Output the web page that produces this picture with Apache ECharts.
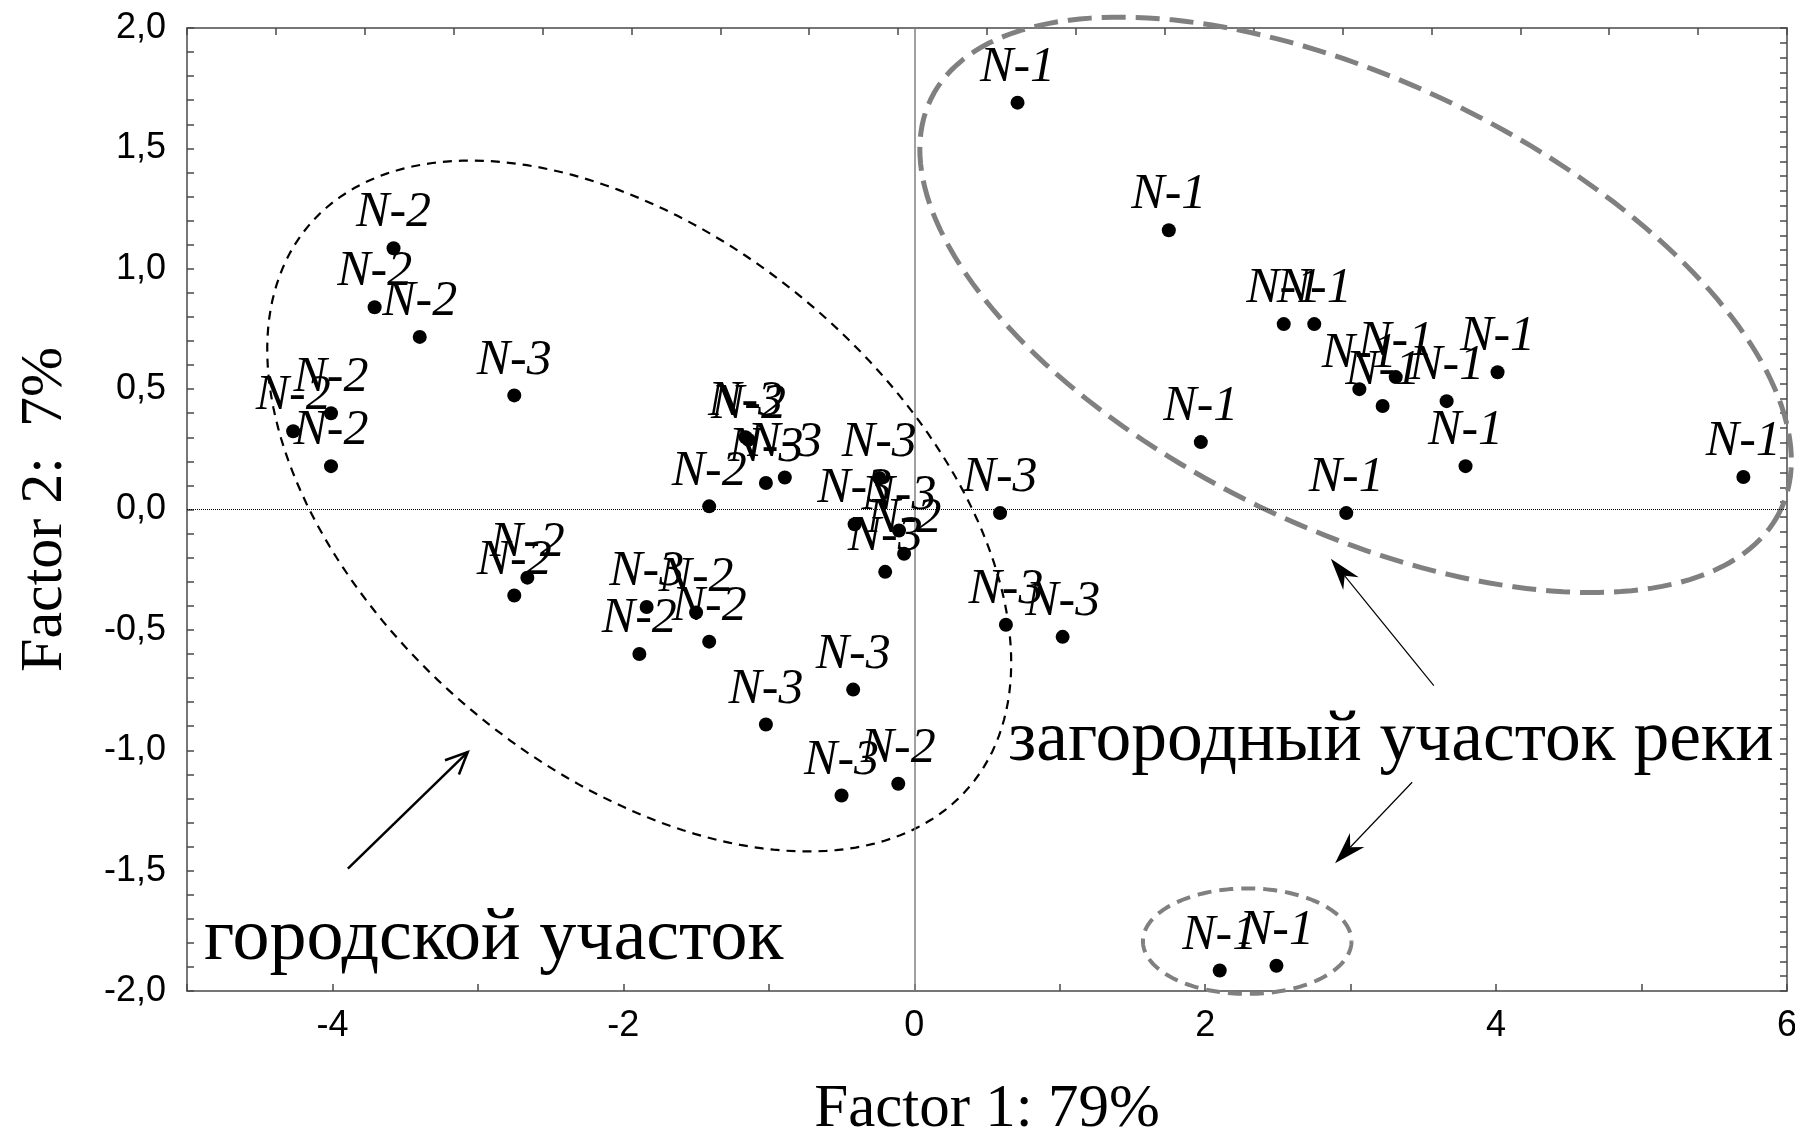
<!DOCTYPE html>
<html><head><meta charset="utf-8">
<script src="https://cdn.jsdelivr.net/npm/echarts@6/dist/echarts.min.js"></script>
<style>html,body{margin:0;padding:0;background:#fff;overflow:hidden}#c{position:absolute;left:0;top:0;width:1795px;height:1131px}</style>
</head><body><div id="c"></div>
<script>
// ---- data ----
const n1X = [0.71, 1.75, 2.54, 2.75, 3.06, 3.31, 3.22, 3.66, 4.01, 3.79, 1.97, 2.97, 5.70, 2.10, 2.49];
const n1Y = [1.69, 1.16, 0.77, 0.77, 0.50, 0.55, 0.43, 0.45, 0.57, 0.18, 0.28, -0.015, 0.135, -1.915, -1.895];
const n2X = [-3.58, -3.71, -3.40, -4.01, -4.27, -4.01, -2.75, -2.66, -1.50, -1.89, -1.41, -0.11, -1.41, -1.14, -0.07];
const n2Y = [1.085, 0.84, 0.717, 0.40, 0.325, 0.18, -0.357, -0.283, -0.428, -0.60, -0.549, -1.139, 0.013, 0.29, -0.184];
const n3X = [-2.75, -1.84, -1.02, -0.42, -0.50, 0.63, 1.02, 0.59, -0.24, -0.89, -1.02, -1.16, -0.41, -0.105, -0.20];
const n3Y = [0.474, -0.405, -0.893, -0.748, -1.188, -0.479, -0.529, -0.015, 0.131, 0.133, 0.11, 0.30, -0.061, -0.087, -0.259];
const groupNames = ['N-1', 'N-2', 'N-3'];

// ellipses: [centerX, centerY, semiAxis1X, semiAxis1Y, semiAxis2X, semiAxis2Y] (data units)
const ellipseCity = [-1.891, 0.0145, 2.270, -1.1665, -1.178, -0.8356];
const ellipseRiver = [3.034, 0.850, 2.920, -0.855, -0.670, -0.835];
const ellipseRiverSmall = [2.289, -1.793, 0.717, 0, 0, -0.219];

// arrows: [fromX, fromY, toX, toY]
const arrowCity = [-3.894, -1.492, -3.070, -1.0075];
const arrowRiverUp = [3.572, -0.732, 2.864, -0.2047];
const arrowRiverDown = [3.423, -1.133, 2.893, -1.469];

const cityText = 'городской участок';
const riverText = 'загородный участок реки';
const xTitle = 'Factor 1: 79%';
const yTitle = 'Factor 2:  7%';

// ---- chart ----
const chart = echarts.init(document.getElementById('c'));
const zip = (xs, ys) => xs.map((x, i) => [x, ys[i]]);
const axisColor = '#4a4a4a';

function ellipseRender(style) {
  return function (params, api) {
    const cx = api.value(0), cy = api.value(1), ux = api.value(2), uy = api.value(3), vx = api.value(4), vy = api.value(5);
    const pts = [];
    const n = 200;
    for (let i = 0; i <= n; i++) {
      const t = i / n * Math.PI * 2;
      pts.push(api.coord([cx + Math.cos(t) * ux + Math.sin(t) * vx, cy + Math.cos(t) * uy + Math.sin(t) * vy]));
    }
    return { type: 'polyline', shape: { points: pts }, style: Object.assign({ fill: null }, style) };
  };
}

function arrowRender(kind, lw) {
  return function (params, api) {
    const p1 = api.coord([api.value(0), api.value(1)]);
    const p2 = api.coord([api.value(2), api.value(3)]);
    const a = Math.atan2(p2[1] - p1[1], p2[0] - p1[0]);
    const pt = (len, off) => [p2[0] - Math.cos(a) * len - Math.sin(a) * off, p2[1] - Math.sin(a) * len + Math.cos(a) * off];
    const children = [];
    if (kind === 'open') {
      children.push({ type: 'line', shape: { x1: p1[0], y1: p1[1], x2: p2[0], y2: p2[1] }, style: { stroke: '#000', lineWidth: lw } });
      const l = pt(22, 10), r = pt(22, -10);
      children.push({ type: 'polyline', shape: { points: [l, p2, r] }, style: { stroke: '#000', lineWidth: lw, fill: null } });
    } else {
      const notch = pt(22, 0);
      children.push({ type: 'line', shape: { x1: p1[0], y1: p1[1], x2: notch[0], y2: notch[1] }, style: { stroke: '#000', lineWidth: lw } });
      children.push({ type: 'polygon', shape: { points: [p2, pt(32, 10), notch, pt(32, -10)] }, style: { fill: '#000' } });
    }
    return { type: 'group', children };
  };
}

const labelStyle = {
  show: true, position: 'top', distance: 3,
  fontFamily: 'Liberation Serif', fontStyle: 'italic', fontSize: 50, color: '#000'
};

function scatter(name, data, extra) {
  return Object.assign({
    type: 'scatter', name, data, symbol: 'circle', symbolSize: 14,
    itemStyle: { color: '#000', opacity: 1 },
    label: Object.assign({ formatter: name }, labelStyle),
    z: 5
  }, extra || {});
}

chart.setOption({
  animation: false,
  backgroundColor: '#fff',
  grid: { left: 187, right: 8, top: 28, bottom: 140, containLabel: false, outerBoundsMode: 'none' },
  xAxis: [{
    type: 'value', min: -5, max: 6, interval: 1, position: 'bottom',
    name: xTitle, nameLocation: 'middle', nameGap: 88,
    nameTextStyle: { fontFamily: 'Liberation Serif', fontSize: 61, color: '#000' },
    axisLine: { show: true, onZero: false, lineStyle: { color: axisColor, width: 1.5 } },
    axisTick: { show: true, inside: true, length: 7, lineStyle: { color: axisColor, width: 1.5 } },
    axisLabel: { margin: 17, fontFamily: 'Liberation Sans', fontSize: 36, color: '#000',
      formatter: v => (Math.round(v) % 2 === 0 ? String(Math.round(v)) : '') },
    splitLine: { show: false }
  }, {
    type: 'value', min: 0, max: 18, interval: 1, position: 'top',
    axisLine: { show: true, onZero: false, lineStyle: { color: axisColor, width: 1.5 } },
    axisTick: { show: true, inside: true, length: 7, lineStyle: { color: axisColor, width: 1.5 } },
    axisLabel: { show: false }, splitLine: { show: false }
  }],
  yAxis: [{
    type: 'value', min: -2, max: 2, interval: 0.5, position: 'left',
    name: yTitle, nameLocation: 'middle', nameGap: 112, nameRotate: 90,
    nameTextStyle: { fontFamily: 'Liberation Serif', fontSize: 60, color: '#000' },
    axisLine: { show: true, onZero: false, lineStyle: { color: axisColor, width: 1.5 } },
    axisTick: { show: true, inside: true, length: 7, lineStyle: { color: axisColor, width: 1.5 } },
    minorTick: { show: true, splitNumber: 5, length: 7, lineStyle: { color: axisColor, width: 1.5 } },
    axisLabel: { margin: 21, fontFamily: 'Liberation Sans', fontSize: 36, color: '#000',
      formatter: v => v.toFixed(1).replace('.', ',') },
    splitLine: { show: false }
  }, {
    type: 'value', min: 0, max: 65, interval: 1, position: 'right',
    axisLine: { show: true, onZero: false, lineStyle: { color: axisColor, width: 1.5 } },
    axisTick: { show: true, inside: true, length: 7, lineStyle: { color: axisColor, width: 1.5 } },
    axisLabel: { show: false }, splitLine: { show: false }
  }],
  graphic: [
    { type: 'text', left: 204, top: 903, style: { text: cityText, font: '74px "Liberation Serif"', fill: '#000' } },
    { type: 'text', left: 1008, top: 705, style: { text: riverText, font: '71.5px "Liberation Serif"', fill: '#000' } }
  ],
  series: [
    {
      type: 'custom', name: 'city', clip: false, silent: true, z: 2,
      data: [ellipseCity],
      renderItem: ellipseRender({ stroke: '#000', lineWidth: 2.2, lineDash: [9, 7] })
    },
    {
      type: 'custom', name: 'river', clip: false, silent: true, z: 2,
      data: [ellipseRiver],
      renderItem: ellipseRender({ stroke: '#808080', lineWidth: 5, lineDash: [24, 10] })
    },
    {
      type: 'custom', name: 'riverSmall', clip: false, silent: true, z: 2,
      data: [ellipseRiverSmall],
      renderItem: ellipseRender({ stroke: '#808080', lineWidth: 4, lineDash: [14, 8] })
    },
    { type: 'custom', name: 'arrowCity', clip: false, silent: true, z: 3, data: [arrowCity], renderItem: arrowRender('open', 2.5) },
    { type: 'custom', name: 'arrowUp', clip: false, silent: true, z: 3, data: [arrowRiverUp], renderItem: arrowRender('filled', 1.2) },
    { type: 'custom', name: 'arrowDown', clip: false, silent: true, z: 3, data: [arrowRiverDown], renderItem: arrowRender('filled', 1.2) },
    scatter(groupNames[0], zip(n1X, n1Y), {
      markLine: {
        silent: true, symbol: 'none', animation: false, label: { show: false },
        data: [
          { xAxis: 0, lineStyle: { color: '#808080', width: 1.5, type: 'solid' } },
          { yAxis: 0, lineStyle: { color: '#000', width: 1, type: 'dotted' } }
        ]
      }
    }),
    scatter(groupNames[1], zip(n2X, n2Y)),
    scatter(groupNames[2], zip(n3X, n3Y))
  ]
});
</script>
</body></html>
